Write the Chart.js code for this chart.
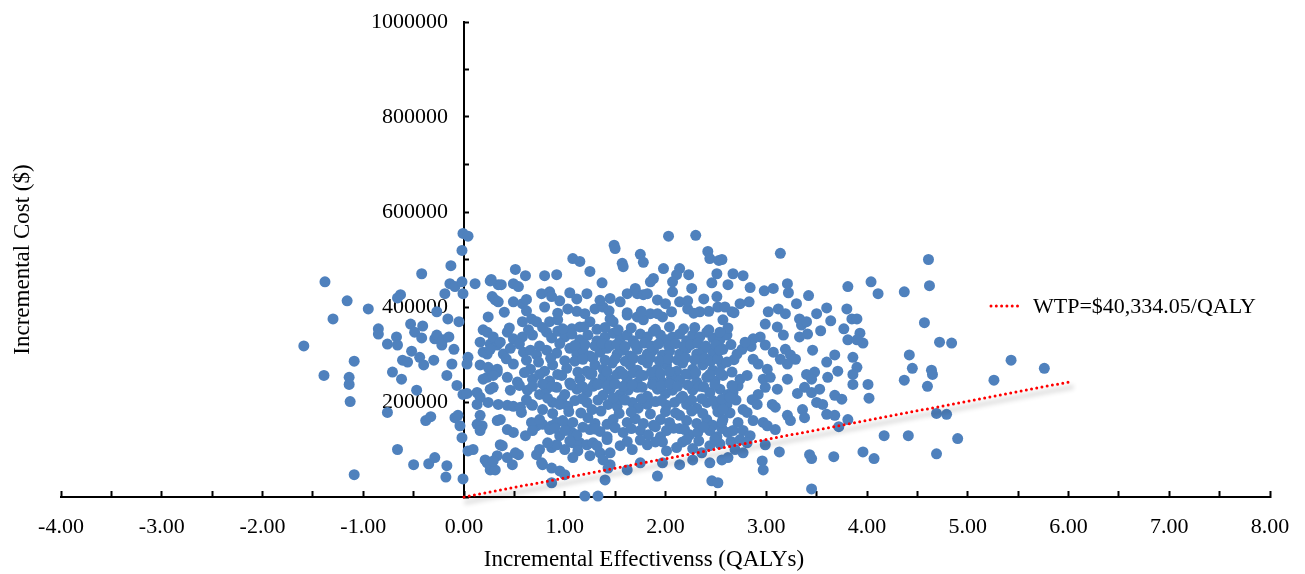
<!DOCTYPE html>
<html>
<head>
<meta charset="utf-8">
<script src="https://cdn.jsdelivr.net/npm/chart.js@4/dist/chart.umd.min.js"></script>
<style>
html,body{margin:0;padding:0;background:#ffffff;}
canvas{display:block;}
</style>
</head>
<body>
<canvas id="c" width="1305" height="574"></canvas>
<script>
// ---- Data: [incremental QALYs, incremental cost ($)] ----
const westOfAxis = [
[-1.38,453000],[-1.16,413000],[-1.30,375000],[-0.95,396000],[-1.59,318000],[-0.85,354000],[-0.85,343000],[-0.76,322000],
[-0.67,337000],[-0.66,320000],[-0.63,426000],[-0.66,419000],[-0.42,470000],[-0.53,364000],[-0.49,347000],[-0.42,335000],
[-0.41,360000],[-0.29,333000],[-0.27,341000],[-0.22,320000],[-0.21,331000],[-0.15,337000],[-0.27,390000],[-0.16,375000],
[-0.19,428000],[-0.14,449000],[-0.09,443000],[-0.02,453000],[-0.01,428000],[-0.05,369000],[-0.13,487000],[-0.02,519000],
[-0.01,555000],[0.04,549000],[-0.10,311000],[-1.09,286000],[-1.39,256000],[-1.14,252000],[-1.14,237000],[-1.13,201000],
[-0.61,288000],[-0.56,284000],[-0.52,307000],[-0.44,294000],[-0.40,278000],[-0.30,288000],[-0.12,280000],[-0.71,263000],
[-0.62,248000],[-0.47,225000],[-0.17,256000],[-0.07,235000],[0.04,294000],[0.03,280000],[-0.01,216000],[0.03,218000],
[-0.76,178000],[-0.38,161000],[-0.33,169000],[-0.09,167000],[-0.06,172000],[-0.04,150000],[-0.02,125000],[-0.66,100000],
[-0.50,68000],[-0.35,70000],[-0.29,83000],[-0.17,66000],[-0.18,42000],[-1.09,47000],[-0.01,38000],[0.04,97000],[0.09,100000]
];
const nearAxis = [
[0.11,449000],[0.26,455000],[0.28,422000],[0.31,415000],[0.34,447000],[0.24,379000],[0.19,352000],[0.23,347000],
[0.16,326000],[0.26,322000],[0.33,320000],[0.23,301000],[0.16,278000],[0.24,273000],[0.33,263000],[0.23,252000],
[0.29,231000],[0.26,227000],[0.13,220000],[0.16,210000],[0.13,195000],[0.24,199000],[0.34,195000],[0.13,153000],
[0.18,150000],[0.16,140000],[0.33,161000],[0.21,78000],[0.33,87000],[0.26,57000],[0.31,57000],[0.36,110000],
[0.23,72000],[0.43,193000],[0.49,191000],[0.56,189000],[0.38,108000],[0.43,83000],[0.48,68000],[0.54,89000],
[0.43,142000],[0.49,136000],[0.61,129000],[0.68,193000],[0.78,184000],[0.72,150000],[0.78,153000],[0.87,150000],
[0.92,157000],[0.72,89000],[0.78,68000],[0.87,104000],[0.92,110000],[0.87,30000],[0.95,55000],[1.00,47000],
[1.00,100000],[0.88,199000],[0.97,205000],[1.02,150000],[1.07,136000],[1.08,114000],[1.15,114000],[1.22,110000],
[1.28,114000],[1.20,2000],[1.33,2000],[1.35,93000],[1.45,93000],[1.45,68000],[1.40,36000]
];
const coreUpper = [
[2.03,549000],[2.30,551000],[1.49,530000],[1.50,523000],[1.75,511000],[1.78,494000],[1.08,502000],[1.15,496000],
[1.57,492000],[1.58,485000],[0.51,479000],[0.61,466000],[0.80,466000],[0.92,468000],[1.25,475000],[1.37,451000],
[0.27,458000],[0.37,447000],[0.49,449000],[0.54,443000],[1.98,481000],[2.14,481000],[2.11,468000],[2.23,468000],
[2.42,517000],[2.44,502000],[2.53,498000],[2.51,470000],[2.46,451000],[2.26,439000],[2.07,453000],[2.07,432000],
[1.88,460000],[1.85,453000],[0.77,428000],[0.85,432000],[0.87,422000],[1.05,430000],[1.22,428000],[1.62,428000],
[1.70,439000],[1.72,428000],[1.78,426000],[1.82,428000],[0.34,411000],[0.49,411000],[0.58,407000],[0.80,400000],
[1.03,396000],[1.30,396000],[1.38,400000],[1.55,411000],[2.00,407000],[2.14,411000],[2.22,396000],[2.34,390000],
[2.52,400000],[2.51,422000],[0.58,369000],[0.67,375000],[0.72,369000],[0.85,369000],[0.93,373000],[1.07,354000],
[1.15,358000],[1.25,369000],[1.45,375000],[1.48,369000],[1.62,383000],[1.72,379000],[1.78,373000],[1.85,386000],
[1.97,379000]
];
const coreMiddle = [
[0.29,337000],[0.36,326000],[0.43,347000],[0.49,333000],[0.58,337000],[0.68,341000],[0.82,347000],[0.87,335000],
[0.93,349000],[1.00,337000],[1.07,343000],[1.15,331000],[1.23,341000],[1.32,329000],[1.40,337000],[1.48,345000],
[1.55,333000],[1.62,341000],[1.68,329000],[1.75,343000],[1.82,337000],[1.88,349000],[1.95,341000],[2.01,331000],
[2.07,337000],[2.14,343000],[2.21,329000],[2.27,341000],[2.34,337000],[2.41,347000],[2.47,335000],[2.54,331000],
[2.61,341000],
[0.19,305000],[0.26,311000],[0.39,301000],[0.46,313000],[0.59,305000],[0.66,309000],[0.72,299000],[0.82,309000],
[0.92,303000],[1.05,313000],[1.12,301000],[1.18,309000],[1.25,297000],[1.35,305000],[1.42,313000],[1.52,301000],
[1.58,309000],[1.65,297000],[1.72,311000],[1.82,301000],[1.88,309000],[1.97,299000],[2.04,307000],[2.14,301000],
[2.21,313000],[2.31,301000],[2.37,309000],[2.47,305000],[2.57,311000],
[0.33,269000],[0.49,280000],[0.66,269000],[0.74,284000],[0.80,265000],[0.88,278000],[1.02,271000],[1.10,286000],
[1.22,265000],[1.30,278000],[1.38,269000],[1.47,282000],[1.55,265000],[1.65,278000],[1.72,267000],[1.82,282000],
[1.92,269000],[2.01,278000],[2.11,265000],[2.17,282000],[2.27,269000],[2.37,278000],[2.47,267000],[2.56,280000],
[0.19,248000],[0.29,256000],[0.43,252000],[0.53,242000],[0.68,248000],[0.75,258000],[0.85,244000],[0.97,256000],
[1.05,240000],[1.15,248000],[1.25,258000],[1.30,240000],[1.38,252000],[1.47,246000],[1.52,258000],[1.62,248000],
[1.72,240000],[1.78,256000],[1.88,248000],[1.97,242000],[2.06,252000],[2.14,246000],[2.24,258000],[2.31,242000],
[2.41,252000],[2.49,244000],[2.57,256000]
];
const coreLower = [
[0.46,225000],[0.63,225000],[0.68,233000],[0.75,216000],[0.82,227000],[0.92,231000],[1.00,216000],[1.12,227000],
[1.22,220000],[1.28,233000],[1.38,214000],[1.45,227000],[1.55,216000],[1.63,225000],[1.72,231000],[1.82,212000],
[1.92,227000],[2.00,218000],[2.07,225000],[2.17,212000],[2.27,225000],[2.34,233000],[2.44,220000],[2.54,227000],
[2.62,216000],
[0.67,195000],[0.95,195000],[1.03,191000],[1.22,199000],[1.27,184000],[1.43,195000],[1.52,191000],[1.55,205000],
[1.67,199000],[1.73,187000],[1.82,195000],[1.90,201000],[2.01,193000],[2.09,199000],[2.21,195000],[2.31,187000],
[2.41,199000],[2.51,191000],[2.61,195000],
[0.16,172000],[0.36,163000],[0.67,157000],[0.75,163000],[0.98,161000],[1.08,157000],[1.23,167000],[1.30,155000],
[1.42,153000],[1.48,163000],[1.62,157000],[1.70,165000],[1.78,155000],[1.88,151000],[1.95,163000],[2.04,157000],
[2.14,172000],[2.21,161000],[2.31,155000],[2.41,163000],[2.47,151000],[2.57,163000],
[0.68,140000],[0.85,142000],[0.95,129000],[1.00,140000],[1.12,131000],[1.25,142000],[1.35,138000],[1.42,127000],
[1.58,136000],[1.75,140000],[1.83,131000],[1.95,127000],[2.01,140000],[2.14,144000],[2.24,131000],[2.32,136000],
[2.44,140000],[2.51,127000],[2.62,136000],
[0.51,93000],[0.75,100000],[0.83,114000],[1.13,97000],[1.32,108000],[1.55,108000],[1.67,100000],[1.82,110000],
[1.90,116000],[2.01,97000],[2.11,104000],[2.17,116000],[2.27,102000],[2.36,93000],[2.44,108000],[2.54,112000],
[0.29,76000],[0.77,72000],[0.87,61000],[1.08,83000],[1.25,87000],[1.38,78000],[1.43,61000],[1.62,57000],
[1.75,72000],[1.97,72000],[2.14,68000],[2.27,78000],[2.44,72000],[1.92,44000],[2.46,34000],[2.52,30000]
];
// extra points filling the dense centre of the cloud
const coreDense = [
[1.20,321000],[1.30,318000],[1.37,323000],[1.45,319000],[1.52,322000],[1.60,317000],[1.70,321000],[1.79,324000],
[1.86,318000],[1.93,322000],[2.03,319000],[2.10,323000],[2.18,317000],[2.25,321000],[2.32,324000],[2.40,318000],
[2.50,320000],[0.55,322000],[0.75,318000],[0.95,323000],[1.10,319000],[2.65,321000],[2.85,317000],
[0.42,291000],[0.62,288000],[0.86,292000],[1.00,287000],[1.18,290000],[1.28,293000],[1.40,288000],[1.50,291000],
[1.60,286000],[1.68,292000],[1.77,289000],[1.85,293000],[1.94,287000],[2.03,291000],[2.12,288000],[2.20,293000],
[2.29,289000],[2.39,292000],[2.45,286000],[2.52,291000],[2.68,289000],
[0.60,262000],[0.93,258000],[1.13,263000],[1.27,260000],[1.42,264000],[1.58,259000],[1.68,262000],[1.75,257000],
[1.86,263000],[1.95,260000],[2.04,264000],[2.20,259000],[2.30,262000],[2.44,258000],[2.66,263000],
[0.55,235000],[0.78,238000],[0.87,233000],[1.06,236000],[1.18,232000],[1.33,237000],[1.42,234000],[1.50,238000],
[1.58,233000],[1.67,236000],[1.77,231000],[1.87,237000],[1.96,234000],[2.04,238000],[2.12,233000],[2.22,236000],
[2.38,232000],[2.49,237000],[2.72,234000],
[0.62,205000],[0.83,208000],[1.10,203000],[1.17,207000],[1.33,204000],[1.48,209000],[1.60,204000],[1.76,207000],
[1.96,203000],[2.15,208000],[2.26,204000],[2.36,207000],[2.47,203000],[2.56,206000],[2.70,204000],
[0.57,178000],[0.88,176000],[1.04,180000],[1.16,177000],[1.36,181000],[1.54,176000],[1.66,179000],[1.85,175000],
[2.00,180000],[2.10,177000],[2.26,181000],[2.37,176000],[2.52,179000],[2.64,177000],
[0.90,145000],[1.18,147000],[1.30,143000],[1.50,146000],[1.66,144000],[1.90,148000],[2.08,145000],[2.19,142000],
[2.38,147000],[2.56,144000],
[1.05,118000],[1.42,121000],[1.62,117000],[1.75,120000],[1.97,116000],[2.21,121000],[2.33,118000],[2.49,122000],
[2.65,117000],
[0.45,356000],[0.64,352000],[0.78,357000],[0.98,354000],[1.19,358000],[1.32,353000],[1.40,357000],[1.53,352000],
[1.66,356000],[1.90,353000],[2.04,358000],[2.18,354000],[2.29,357000],[2.43,352000],[2.62,356000],
[0.40,389000],[0.62,392000],[0.93,387000],[1.12,391000],[1.20,386000],[1.44,392000],[1.62,388000],[1.76,391000],
[1.92,386000],[2.06,390000],[2.28,387000],[2.43,391000],[2.68,388000],
[0.62,416000],[0.95,413000],[1.12,417000],[1.35,414000],[1.45,418000],[1.92,415000],[2.22,413000],[2.38,417000]
];
const eastCluster = [
[3.14,513000],[4.61,500000],[4.62,445000],[4.04,453000],[4.11,428000],[4.37,432000],[3.81,443000],[4.57,367000],
[4.72,326000],[4.84,324000],[4.42,299000],[4.45,271000],[4.37,246000],[4.64,267000],[4.65,258000],[4.60,233000],
[4.69,176000],[4.79,174000],[4.17,129000],[4.41,129000],[4.90,123000],[4.69,91000],[3.96,95000],[4.07,81000],
[3.67,85000],[3.43,89000],[3.45,81000],[3.45,17000],[3.13,95000],[2.96,76000],[2.97,57000],
[4.01,237000],[4.02,208000],[3.86,294000],[3.90,273000],[3.86,258000],[3.86,237000],[3.81,163000],[3.72,148000],
[3.68,172000],[3.68,214000],[3.75,206000],[3.61,252000],[3.68,299000],[3.60,284000],[3.71,265000],[3.80,396000],
[3.85,375000],[3.90,375000],[3.93,345000],[3.96,324000],[3.81,331000],[3.90,331000],[3.77,354000],[3.60,398000],
[3.50,386000],[3.64,371000],[3.54,350000],[3.42,424000],[3.30,407000],[3.21,449000],[3.22,430000],[2.98,434000],
[3.07,439000],[2.84,441000],[2.67,470000],[2.77,466000],[2.56,500000],[2.62,447000],[2.83,411000],[2.74,407000],
[2.66,390000],[3.02,390000],[3.12,396000],[3.19,386000],[3.33,375000],[3.35,362000],[3.40,369000],[3.41,343000],
[3.33,337000],[3.46,309000],[3.19,311000],[3.24,299000],[3.29,290000],[3.21,280000],[3.14,290000],[3.07,305000],
[2.99,320000],[2.94,337000],[2.87,333000],[2.99,364000],[3.11,358000],[3.17,341000],[3.40,258000],[3.48,263000],
[3.45,248000],[3.38,231000],[3.45,220000],[3.53,227000],[3.31,218000],[3.21,248000],[3.50,199000],[3.56,195000],
[3.60,174000],[3.36,184000],[3.38,167000],[3.21,172000],[3.24,161000],[3.06,195000],[3.09,189000],[2.97,157000],
[3.01,150000],[3.09,142000],[2.87,161000],[2.77,184000],[2.81,178000],[2.67,220000],[2.64,210000],[2.74,248000],
[2.81,256000],[2.66,235000],[2.97,248000],[3.04,252000],[3.01,269000],[2.92,280000],[2.87,290000],[2.76,311000],
[2.79,326000],[2.71,301000],[2.61,284000],[2.54,263000],[2.92,216000],[2.99,231000],[3.11,227000],[2.86,205000],
[2.91,195000],[2.57,184000],[2.56,157000],[2.72,157000],[2.67,140000],[2.77,140000],[2.84,129000],[2.74,121000],
[2.81,114000],[2.69,100000],[2.77,93000],[2.56,78000],[2.62,83000],[2.99,110000],[2.54,309000],[2.54,347000],
[2.57,373000],[2.59,400000]
];
const farEast = [[5.43,288000],[5.26,246000],[5.76,271000]];

// WTP threshold line
const wtpLabel = 'WTP=$40,334.05/QALY';
const wtpQaly = [0, 6.0];
const wtpCost = [0, 242004];

// Axes
const xRange = [-4, 8];
const yRange = [0, 1000000];
const xTickStep = 0.5;
const yTickStep = 100000;
const yLabelStep = 200000;
const xTitle = 'Incremental Effectivenss (QALYs)';
const yTitle = 'Incremental Cost ($)';

// ---- Build ----
const simulations = [].concat(westOfAxis, nearAxis, coreUpper, coreMiddle, coreLower, coreDense, eastCluster, farEast)
  .map(p => ({x: p[0], y: p[1]}));
const wtpPoints = wtpQaly.map((q, i) => ({x: q, y: wtpCost[i]}));

const SERIF = "'Liberation Serif', 'Times New Roman', serif";
const TICK_FONT = {family: SERIF, size: 22, weight: 'normal'};

const lineShadow = {
  id: 'lineShadow',
  beforeDatasetDraw(chart, args) {
    if (args.index === 1) {
      const ctx = chart.ctx;
      ctx.save();
      ctx.shadowColor = 'rgba(0,0,0,0.45)';
      ctx.shadowBlur = 5;
      ctx.shadowOffsetX = 3;
      ctx.shadowOffsetY = 5;
    }
  },
  afterDatasetDraw(chart, args) {
    if (args.index === 1) chart.ctx.restore();
  }
};

const wtpLegend = {
  id: 'wtpLegend',
  afterDraw(chart) {
    const ds = chart.data.datasets[1];
    const ctx = chart.ctx;
    ctx.save();
    ctx.strokeStyle = ds.borderColor;
    ctx.lineWidth = ds.borderWidth;
    ctx.lineCap = 'round';
    ctx.setLineDash(ds.borderDash);
    ctx.beginPath();
    ctx.moveTo(991, 306);
    ctx.lineTo(1018, 306);
    ctx.stroke();
    ctx.setLineDash([]);
    ctx.fillStyle = '#000';
    ctx.font = "22px " + SERIF;
    ctx.textAlign = 'left';
    ctx.textBaseline = 'middle';
    ctx.fillText(ds.label, 1033, 307);
    ctx.restore();
  }
};

new Chart(document.getElementById('c').getContext('2d'), {
  type: 'scatter',
  data: {
    datasets: [
      {
        label: 'Simulations',
        data: simulations,
        backgroundColor: '#4F81BD',
        borderColor: '#4F81BD',
        borderWidth: 0,
        pointRadius: 5.5,
        pointHoverRadius: 5.5,
        order: 1,
        clip: false,
        xAxisID: 'x', yAxisID: 'y'
      },
      {
        label: wtpLabel,
        data: wtpPoints,
        showLine: true,
        pointRadius: 0,
        borderColor: '#FF0000',
        borderWidth: 3,
        borderDash: [0, 5.3],
        borderCapStyle: 'round',
        fill: false,
        order: 0,
        clip: false,
        xAxisID: 'x', yAxisID: 'y'
      }
    ]
  },
  plugins: [lineShadow, wtpLegend],
  options: {
    responsive: false,
    animation: false,
    devicePixelRatio: 1,
    events: [],
    layout: {padding: {left: 0, right: 17, top: 22, bottom: 0}},
    plugins: {
      legend: {display: false},
      tooltip: {enabled: false},
      title: {
        display: true,
        position: 'bottom',
        text: xTitle,
        color: '#000',
        font: {family: SERIF, size: 23, weight: 'normal'},
        padding: {top: 11, bottom: 0.4}
      }
    },
    scales: {
      x: {
        type: 'linear', position: 'bottom', min: xRange[0], max: xRange[1],
        ticks: {
          stepSize: xTickStep, autoSkip: false, maxRotation: 0, minRotation: 0,
          color: '#000', font: TICK_FONT, padding: 23,
          callback: v => (Math.abs(v - Math.round(v)) < 1e-9 ? Number(v).toFixed(2) : '')
        },
        grid: {drawOnChartArea: false, drawTicks: true, tickLength: -6, tickWidth: 2, tickColor: '#000'},
        border: {display: true, color: '#000', width: 2},
        afterFit(s) { s.height = 38; s.paddingLeft = 0; s.paddingRight = 0; }
      },
      y: {
        type: 'linear', position: {x: 0}, min: yRange[0], max: yRange[1],
        ticks: {stepSize: yTickStep, display: false},
        grid: {drawOnChartArea: false, drawTicks: true, tickLength: -6, tickWidth: 2, tickColor: '#000'},
        border: {display: true, color: '#000', width: 2},
        afterFit(s) { s.paddingTop = 0; s.paddingBottom = 0; }
      },
      yLabels: {
        type: 'linear', position: {x: -0.16}, min: yRange[0], max: yRange[1],
        ticks: {
          stepSize: yLabelStep, color: '#000', font: TICK_FONT,
          callback: v => (v === 0 ? '' : String(v))
        },
        grid: {display: false},
        border: {display: false},
        afterFit(s) { s.paddingTop = 0; s.paddingBottom = 0; }
      },
      yTitle: {
        type: 'linear', position: 'left', min: yRange[0], max: yRange[1],
        ticks: {display: false},
        grid: {display: false},
        border: {display: false},
        title: {
          display: true, text: yTitle, color: '#000',
          font: {family: SERIF, size: 23, weight: 'normal'},
          padding: {top: 9, bottom: 0}
        },
        afterFit(s) { s.width = 61; s.paddingTop = 0; s.paddingBottom = 0; }
      },
      rightSpace: {
        type: 'linear', position: 'right', min: 0, max: 1,
        ticks: {display: false},
        grid: {display: false},
        border: {display: false},
        afterFit(s) { s.width = 18; s.paddingTop = 0; s.paddingBottom = 0; }
      }
    }
  }
});
</script>
</body>
</html>
